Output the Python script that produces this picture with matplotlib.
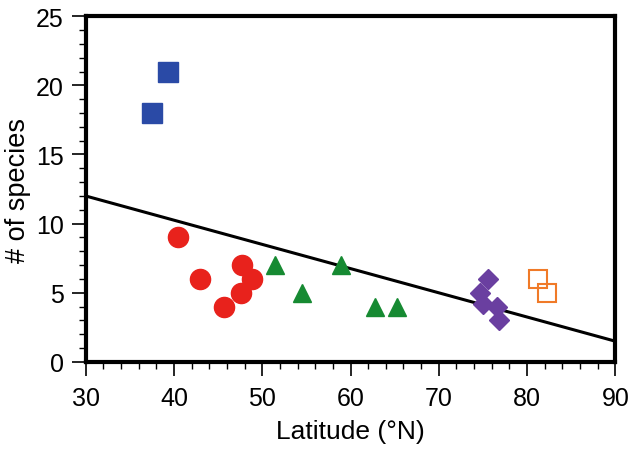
import numpy as np
import matplotlib.pyplot as plt
from matplotlib.ticker import MultipleLocator

plt.rcParams['font.family'] = ['Liberation Sans', 'DejaVu Sans']

# data
blue_lat = [37.5, 39.3]
blue_n = [18, 21]
red_lat = [40.5, 43.0, 45.7, 47.6, 47.7, 48.8]
red_n = [9, 6, 4, 5, 7, 6]
green_lat = [51.5, 54.5, 58.9, 62.8, 65.3]
green_n = [7, 5, 7, 4, 4]
purple_lat = [74.7, 75.0, 75.6, 76.6, 76.8]
purple_n = [5, 4.2, 6, 4, 3]
orange_lat = [81.2, 82.3]
orange_n = [6, 5]

fit_intercept = 12.0   # value at 30 N
fit_slope = -0.175

fig = plt.figure(figsize=(6.35, 4.52), dpi=100)
ax = fig.add_axes([0.135, 0.197, 0.834, 0.765])

x_line = np.array([30, 90])
ax.plot(x_line, fit_intercept + fit_slope * (x_line - 30), color='black', lw=2.2, zorder=1)

ax.plot(blue_lat, blue_n, 's', color='#2a4aa6', ms=14, zorder=3)
ax.plot(red_lat, red_n, 'o', color='#e8221c', ms=14.5, zorder=3)
ax.plot(green_lat, green_n, '^', color='#168a32', ms=13, zorder=3)
ax.plot(purple_lat, purple_n, 'D', color='#6a3fa0', ms=10, zorder=3)
ax.plot(orange_lat, orange_n, 's', mfc='none', mec='#f07a28', mew=1.5, ms=13, zorder=3)

ax.set_xlim(30, 90)
ax.set_ylim(0, 25)
ax.xaxis.set_major_locator(MultipleLocator(10))
ax.xaxis.set_minor_locator(MultipleLocator(2))
ax.yaxis.set_major_locator(MultipleLocator(5))
ax.yaxis.set_minor_locator(MultipleLocator(1))
ax.tick_params(which='major', direction='out', length=10, width=1.2, labelsize=18)
ax.tick_params(which='minor', direction='out', length=5, width=1)
ax.tick_params(axis='x', which='major', pad=7)
ax.tick_params(axis='y', which='major', pad=6)
for s in ax.spines.values():
    s.set_linewidth(3)

ax.set_xlabel('Latitude (°N)', fontsize=19)
ax.set_ylabel('# of species', fontsize=19.5)
ax.xaxis.set_label_coords(0.5, -0.165)
ax.yaxis.set_label_coords(-0.104, 0.5)

fig.savefig('out.png', dpi=100)
